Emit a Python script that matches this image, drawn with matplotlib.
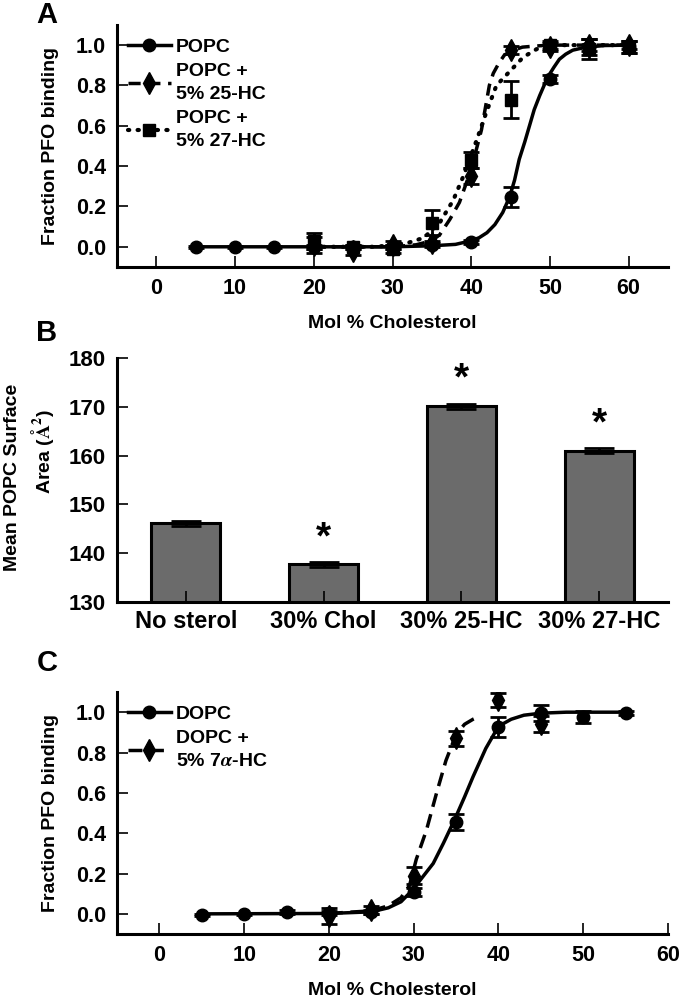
import matplotlib
matplotlib.use("Agg")
import matplotlib.pyplot as plt
from matplotlib.lines import Line2D

plt.rcParams['font.family'] = ['Liberation Sans', 'DejaVu Sans']
plt.rcParams['font.weight'] = 'bold'
plt.rcParams['mathtext.fontset'] = 'stix'

# ---- panel A data ----
mol_a = [5, 10, 15, 20, 25, 30, 35, 40, 45, 50, 55, 60]
popc = [0, 0, 0, 0, 0, 0, 0.01, 0.025, 0.245, 0.83, 0.99, 0.99]
popc_err = [0.005, 0.005, 0.005, 0.01, 0.01, 0.01, 0.01, 0.01, 0.05, 0.02, 0.04, 0.03]
mol_a2 = [20, 25, 30, 35, 40, 45, 50, 55, 60]
hc25 = [0.01, -0.02, 0.01, 0.02, 0.35, 0.975, 0.99, 1.0, 1.0]
hc25_err = [0.04, 0.02, 0.02, 0.01, 0.04, 0.02, 0.02, 0.03, 0.02]
hc27 = [0.03, 0.0, -0.01, 0.12, 0.43, 0.73, 1.0, 0.98, 0.99]
hc27_err = [0.04, 0.01, 0.02, 0.06, 0.04, 0.09, 0.02, 0.05, 0.03]

# fitted curves
popc_fit_x = [5, 30, 35, 38, 40, 41, 42, 43, 44, 44.9, 45.5, 46.1, 46.8, 47.4, 48, 48.7,
              49.7, 50.5, 51.2, 52, 52.9, 54.6, 57, 60]
popc_fit_y = [0, 0, 0.005, 0.012, 0.03, 0.045, 0.07, 0.11, 0.17, 0.25, 0.33, 0.434, 0.52, 0.60,
              0.68, 0.75, 0.84, 0.89, 0.93, 0.955, 0.975, 0.99, 0.998, 1.0]
hc25_fit_x = [20, 30, 33, 35, 36, 37.3, 38.5, 39.5, 40.5, 41.3, 42.3, 42.8, 43.5, 44.2, 45,
              46.5, 48, 50, 55, 60]
hc25_fit_y = [0, 0, 0.01, 0.03, 0.06, 0.137, 0.22, 0.33, 0.46, 0.58, 0.80, 0.86, 0.91, 0.95,
              0.97, 0.99, 0.995, 1.0, 1.0, 1.0]
hc27_fit_x = [20, 28, 30, 32, 34, 36, 37.7, 39, 40.7, 41.9, 43.2, 44.9, 46.6, 48.3, 51, 55, 60]
hc27_fit_y = [0, 0, 0.01, 0.02, 0.045, 0.12, 0.23, 0.35, 0.53, 0.665, 0.80, 0.87, 0.94, 0.98,
              1.0, 1.0, 1.0]

# ---- panel B data ----
sterols = ["No sterol", "30% Chol", "30% 25-HC", "30% 27-HC"]
area = [146.1, 137.7, 170.1, 161.0]
area_err = [0.5, 0.5, 0.5, 0.5]
significant = [False, True, True, True]

# ---- panel C data ----
mol_c = [5, 10, 15, 20, 25, 30, 35, 40, 45, 50, 55]
dopc = [-0.005, 0.0, 0.01, 0.005, 0.01, 0.11, 0.455, 0.925, 0.995, 0.975, 0.995]
dopc_err = [0.005, 0.005, 0.01, 0.01, 0.01, 0.02, 0.04, 0.05, 0.04, 0.03, 0.01]
mol_c2 = [20, 25, 30, 35, 40, 45]
hc7a = [-0.01, 0.02, 0.19, 0.87, 1.06, 0.94]
hc7a_err = [0.04, 0.02, 0.04, 0.038, 0.035, 0.04]

dopc_fit_x = [5, 20, 25, 27, 28.5, 29.9, 31, 32.3, 33.5, 34.8, 36, 37, 38.5, 40, 41.5, 43, 45,
              48, 52, 55]
dopc_fit_y = [0, 0.002, 0.01, 0.03, 0.06, 0.12, 0.18, 0.25, 0.35, 0.465, 0.58, 0.68, 0.82,
              0.93, 0.965, 0.985, 0.995, 1.0, 1.0, 1.0]
hc7a_fit_x = [20, 25, 27, 28.5, 29.5, 30.3, 31.5, 32.7, 33.8, 35, 36, 37, 37.8]
hc7a_fit_y = [0.002, 0.015, 0.04, 0.08, 0.14, 0.27, 0.415, 0.6, 0.76, 0.89, 0.94, 0.965, 0.98]

DASH = (0, (3.5, 2.2))
DASH_C = (0, (4, 2.2))
DOT = (0, (0.3, 2.0))


def style_axes(ax, tick_size):
    for s in ['top', 'right']:
        ax.spines[s].set_visible(False)
    for s in ['left', 'bottom']:
        ax.spines[s].set_linewidth(2.2)
    ax.tick_params(direction='in', length=8, width=1.2, labelsize=tick_size, pad=8)


def line_style(ls):
    kw = dict(color='k', lw=2.5, ls=ls)
    if ls == DOT:
        kw.update(lw=3, dash_capstyle='round')
    return kw


def series(ax, x, y, err, fx, fy, ls, marker, ms):
    ax.plot(fx, fy, **line_style(ls))
    ax.errorbar(x, y, yerr=err, fmt='none', ecolor='k', elinewidth=2, capsize=6, capthick=2)
    ax.plot(x, y, ls='none', marker=marker, ms=ms, color='k', zorder=5)


def proxy(ls, marker, ms):
    return Line2D([], [], marker=marker, ms=ms, **line_style(ls))


def add_legend(ax, handles, labels):
    leg = ax.legend(handles, labels, loc='upper left', bbox_to_anchor=(0.02, 0.945),
                    frameon=False, fontsize=14, handlelength=2.2, handletextpad=0.25,
                    labelspacing=0.35, borderpad=0, borderaxespad=0)
    for t in leg.get_texts():
        t.set_linespacing(1.5)


def binding_axes(ax, xmax):
    ax.set_xlim(-5, xmax)
    ax.set_ylim(-0.1, 1.1)
    ax.set_xticks(range(0, 61, 10))
    ax.set_yticks([0, 0.2, 0.4, 0.6, 0.8, 1.0])
    ax.set_yticklabels(['0.0', '0.2', '0.4', '0.6', '0.8', '1.0'])
    style_axes(ax, 15.5)
    ax.set_xlabel('Mol % Cholesterol', fontsize=14, fontweight='bold')
    ax.xaxis.set_label_coords(0.5, -0.2)
    ax.set_ylabel('Fraction PFO binding', fontsize=14, fontweight='bold')
    ax.yaxis.set_label_coords(-0.105, 0.5)


fig = plt.figure(figsize=(6.82, 9.98), dpi=100)

# ---------------- A ----------------
ax = fig.add_axes([0.1716, 0.7325, 0.8079, 0.2425])
series(ax, mol_a, popc, popc_err, popc_fit_x, popc_fit_y, '-', 'o', 9)
series(ax, mol_a2, hc25, hc25_err, hc25_fit_x, hc25_fit_y, DASH, 'd', 11)
series(ax, mol_a2, hc27, hc27_err, hc27_fit_x, hc27_fit_y, DOT, 's', 9)
binding_axes(ax, 65)
add_legend(ax, [proxy('-', 'o', 9), proxy(DASH, 'd', 11), proxy(DOT, 's', 9)],
           ['POPC', 'POPC +\n5% 25-HC', 'POPC +\n5% 27-HC'])
fig.text(0.069, 0.985, 'A', fontsize=21, fontweight='bold', ha='center', va='center')

# ---------------- B ----------------
ax = fig.add_axes([0.1716, 0.3968, 0.8079, 0.2445])
pos = list(range(len(sterols)))
ax.bar(pos, area, width=0.5, color='#6b6b6b', edgecolor='k', linewidth=2.2)
ax.errorbar(pos, area, yerr=area_err, fmt='none', ecolor='k', elinewidth=2, capsize=11, capthick=2)
for p, v, sig in zip(pos, area, significant):
    if sig:
        ax.text(p, v + 5.4, '*', fontsize=28, fontweight='bold', ha='center', va='center')
ax.set_xlim(-0.5, 3.5)
ax.set_ylim(130, 180)
ax.set_yticks(range(130, 181, 10))
ax.set_xticks(pos)
ax.set_xticklabels(sterols)
style_axes(ax, 16)
ax.tick_params(axis='x', labelsize=17, pad=6)
ax.text(-0.189, 0.51, 'Mean POPC Surface', transform=ax.transAxes, rotation=90,
        fontsize=14, fontweight='bold', ha='center', va='center')
ax.text(-0.136, 0.615, r'Area ($\mathrm{\AA}^{2}$)', transform=ax.transAxes, rotation=90,
        fontsize=14, fontweight='bold', ha='center', va='center')
fig.text(0.069, 0.666, 'B', fontsize=21, fontweight='bold', ha='center', va='center')

# ---------------- C ----------------
ax = fig.add_axes([0.1716, 0.0641, 0.8079, 0.2425])
series(ax, mol_c, dopc, dopc_err, dopc_fit_x, dopc_fit_y, '-', 'o', 9)
series(ax, mol_c2, hc7a, hc7a_err, hc7a_fit_x, hc7a_fit_y, DASH_C, 'd', 11)
binding_axes(ax, 60)
add_legend(ax, [proxy('-', 'o', 9), proxy(DASH_C, 'd', 11)],
           ['DOPC', 'DOPC +\n5% 7$\\alpha$-HC'])
fig.text(0.069, 0.336, 'C', fontsize=21, fontweight='bold', ha='center', va='center')

fig.savefig('out.png', dpi=100)
